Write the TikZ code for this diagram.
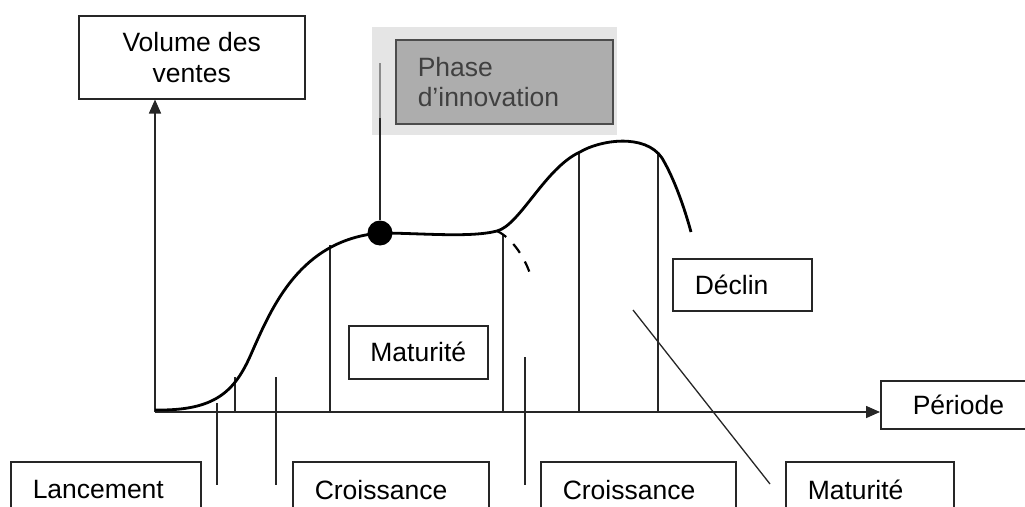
\documentclass[tikz,border=0pt]{standalone}
\usepackage{fontspec}
\setmainfont{Liberation Sans}
\usetikzlibrary{arrows.meta}
\tikzset{
  lbl/.style={draw=black!85, line width=1.5pt, fill=white, font=\fontsize{26.5}{31}\selectfont, inner ysep=0pt},
  lblbox/.style={lbl, anchor=north west, inner xsep=22pt, align=left},
  thin/.style={line width=1.3pt, black!85},
  axis/.style={line width=1.6pt, black!85},
  curve/.style={line width=2.8pt, black},
}
\begin{document}
\begin{tikzpicture}[x=1pt,y=-1pt]
\useasboundingbox (0,0) rectangle (1025,506);
% coordinates
\coordinate (O) at (155,412);
\coordinate (xend) at (880,412);
% boxes
\node[lbl, anchor=north west, minimum width=226pt, minimum height=83pt, align=center] (vol) at (78,15) {Volume des\\ventes};
\node[lblbox, text width=98pt, minimum height=48pt, inner xsep=32pt] (per) at (880,380) {Période};
\node[lblbox, text width=146pt, minimum height=56pt] (lan) at (10,461) {Lancement};
\node[lblbox, text width=152pt, minimum height=56pt] (cr1) at (292,461) {Croissance};
\node[lblbox, text width=151pt, minimum height=56pt] (cr2) at (540,461) {Croissance};
\node[lblbox, text width=124pt, minimum height=56pt] (mat2) at (785,461) {Maturité};
\node[lbl, anchor=north west, minimum width=139pt, minimum height=53pt] (mat1) at (348,325) {Maturité};
\node[lblbox, text width=95pt, minimum height=52pt] (dec) at (672,258) {Déclin};
% phase d'innovation box
\fill[black!10] (372,27) rectangle (617,135);
\node[draw=black!70, line width=1.5pt, fill=black!32, anchor=north west, minimum width=217pt, minimum height=84pt, text width=173pt, inner xsep=22pt, align=left, font=\fontsize{26.5}{30}\selectfont, text=black!75] (pha) at (395,39) {Phase\\d'innovation};
% axes
\draw[axis, -{Triangle[length=14pt,width=12pt]}] (O) -- (vol.south -| O);
\draw[axis, -{Triangle[length=14pt,width=12pt]}] (O) -- (xend);
% vertical lines under the curve
\coordinate (v1) at (235,377);
\coordinate (v2) at (330,245);
\coordinate (v3) at (503,234);
\coordinate (v4) at (579,152);
\coordinate (v5) at (658,152);
\foreach \v in {v1,v2,v3,v4,v5} \draw[thin] (\v) -- (\v |- O);
% pointer lines
\coordinate (p1a) at (217,403); \coordinate (p1b) at (217,485);
\coordinate (p2a) at (276,377); \coordinate (p2b) at (276,485);
\coordinate (p3a) at (525,357); \coordinate (p3b) at (525,485);
\coordinate (p4a) at (633,310); \coordinate (p4b) at (770,484);
\draw[thin] (p1a) -- (p1b);
\draw[thin] (p2a) -- (p2b);
\draw[thin] (p3a) -- (p3b);
\draw[thin] (p4a) -- (p4b);
% curve
\draw[curve] (155,410) .. controls (215,411) and (235,392) .. (252,352)
  .. controls (272,307) and (300,240) .. (380,233)
  .. controls (420,233) and (470,238) .. (497,231)
  .. controls (520,225) and (545,168) .. (580,152)
  .. controls (600,140) and (645,133) .. (662,158)
  .. controls (675,180) and (685,210) .. (691,232);
% dashed branch
\draw[line width=2.2pt, dash pattern=on 11pt off 10pt] (497,231) .. controls (512,238) and (526,258) .. (532,280);
% innovation dot and line
\node[fill=black, circle, minimum size=25pt, inner sep=0pt] (dot) at (380,233) {};
\coordinate (top) at (380,63);
\coordinate (mid) at (380,118);
\draw[line width=1.4pt, black!45] (top) -- (mid);
\draw[thin] (mid) -- (dot.north);
\end{tikzpicture}
\end{document}
